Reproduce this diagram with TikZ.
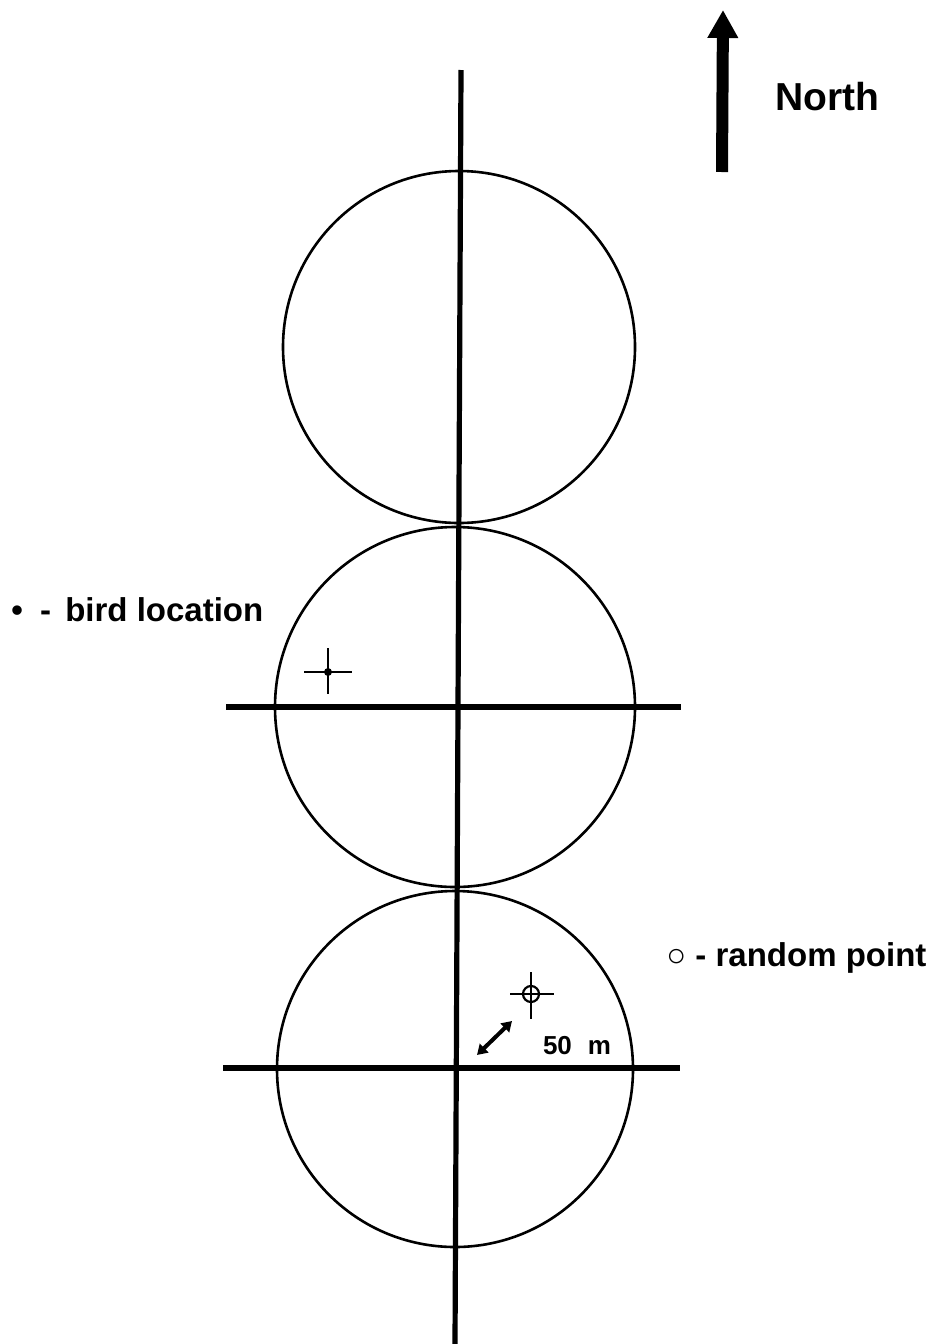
\documentclass[tikz,border=0pt]{standalone}
\usepackage{fontspec}
\setmainfont{Liberation Sans}
\usepackage{tikz}
\usetikzlibrary{arrows.meta, positioning}

\begin{document}
\begin{tikzpicture}[
    x=0.5pt, y=-0.5pt,
    plot/.style={line width=1.3pt},
    transect/.style={line width=2.6pt},
    tick/.style={line width=1.1pt},
    label/.style={font=\bfseries\fontsize{16.5}{19}\selectfont, inner sep=0pt, anchor=west},
    arrow/.style={line width=2pt, {Triangle[length=5pt,width=6pt]}-{Triangle[length=5pt,width=6pt]}}
]
    \useasboundingbox (0,0) rectangle (936,1344);

    % Transect line and plot centres
    \coordinate (ttop) at (461,70);
    \coordinate (tbot) at (455,1344);
    \coordinate (c1) at (459,347);
    \coordinate (c2) at (455,707);
    \coordinate (c3) at (455,1069);
    \draw[transect] (ttop) -- (tbot);

    % Circular plots
    \draw[plot] (c1) circle[radius=176];
    \draw[plot] (c2) circle[radius=180];
    \draw[plot] (c3) circle[radius=178];

    % Cross lines
    \coordinate (w2) at (226,707);
    \coordinate (e2) at (681,707);
    \coordinate (w3) at (223,1068);
    \coordinate (e3) at (680,1068);
    \draw[transect] (w2) -- (e2);
    \draw[transect] (w3) -- (e3);

    % Bird location
    \coordinate (bird) at (328,672);
    \draw[tick] ([xshift=-12pt]bird) -- ([xshift=12pt]bird);
    \draw[tick] ([yshift=12pt]bird) -- ([yshift=-11pt]bird);
    \fill (bird) circle[radius=4];

    % Random point
    \coordinate (rand) at (531,994);
    \draw[tick] ([xshift=-10.5pt]rand) -- ([xshift=11.5pt]rand);
    \draw[tick] ([yshift=11pt]rand) -- ([yshift=-12.5pt]rand);
    \draw[tick] (rand) circle[radius=8];

    % Distance
    \coordinate (d1) at (477,1055);
    \coordinate (d2) at (512,1021);
    \draw[arrow] (d1) -- (d2);
    \node[font=\bfseries\fontsize{13}{15}\selectfont, inner sep=0pt] (dist) at (577,1046) {50\,\, m};

    % North arrow
    \coordinate (nbot) at (722,172);
    \coordinate (ntop) at (723,10);
    \draw[line width=6pt, -{Triangle[length=14pt,width=14.5pt]}] (nbot) -- (ntop);
    \node[font=\bfseries\fontsize{19.5}{22}\selectfont, inner sep=0pt] (north) at (827,97) {North};

    % Legend
    \node[label] (birdkey) at (11,610) {•\hspace{4pt} -\hspace{2.5pt} bird location};
    \node[label] (randkey) at (666,958) {○ - random point};
\end{tikzpicture}
\end{document}
